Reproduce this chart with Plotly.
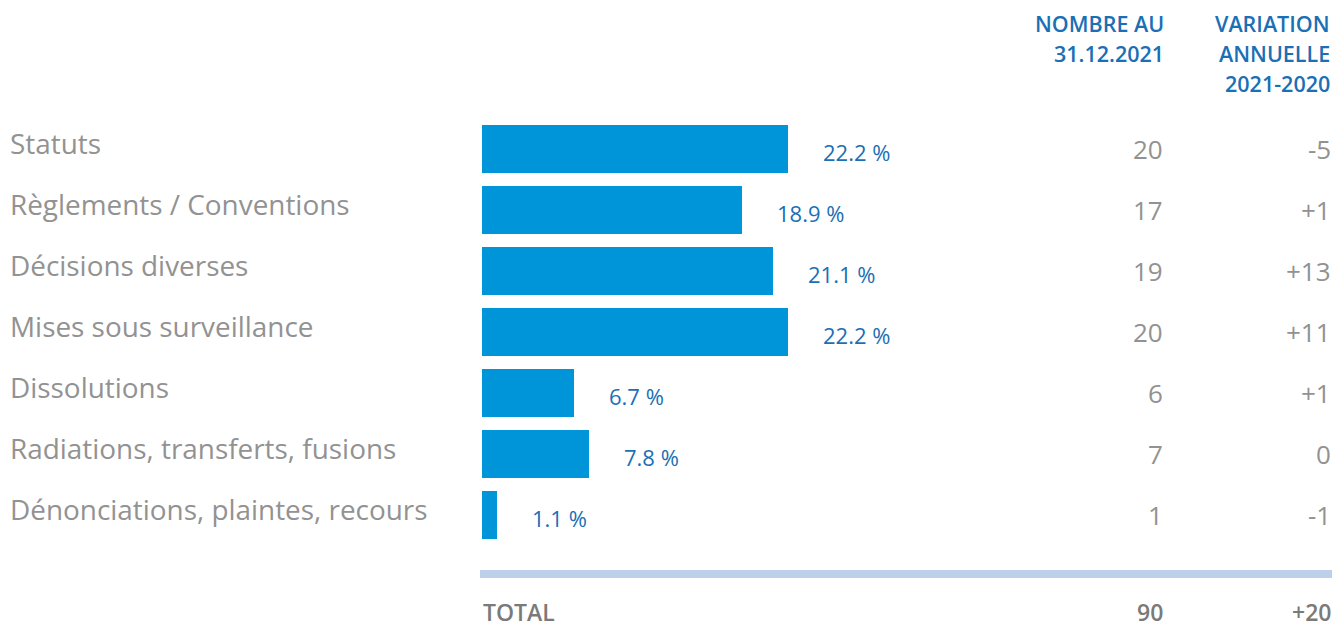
import plotly.graph_objects as go

# Categories and values
categories = [
    "Statuts",
    "Règlements / Conventions",
    "Décisions diverses",
    "Mises sous surveillance",
    "Dissolutions",
    "Radiations, transferts, fusions",
    "Dénonciations, plaintes, recours",
]
shares = [22.2, 18.9, 21.1, 22.2, 6.7, 7.8, 1.1]
counts = [20, 17, 19, 20, 6, 7, 1]
variations = ["-5", "+1", "+13", "+11", "+1", "0", "-1"]
total_count = 90
total_variation = "+20"
header_count = ["NOMBRE AU", "31.12.2021"]
header_variation = ["VARIATION", "ANNUELLE", "2021-2020"]

W, H = 1335, 628
FONT = "Open Sans"
BAR = "#0095d8"
BLUE_TXT = "#1a6fb5"
GREY = "#929292"
GREY_DARK = "#7a7a7a"

def px(x):
    return x / W

def py(y):
    return 1 - y / H

pos = list(range(len(categories)))

fig = go.Figure(go.Bar(
    x=shares, y=pos, orientation="h",
    marker=dict(color=BAR, line=dict(width=0)),
    width=0.79, hoverinfo="skip",
))

ann = []
for i, (cat, s, c, v) in enumerate(zip(categories, shares, counts, variations)):
    ann.append(dict(x=px(8), xref="paper", y=i, yref="y", text=cat,
                    xanchor="left", yanchor="middle", yshift=6, showarrow=False,
                    font=dict(family=FONT, size=27.9, color=GREY)))
    ann.append(dict(x=s, xref="x", y=i, yref="y", text=f"{s} %",
                    xanchor="left", yanchor="middle", xshift=33, yshift=-3,
                    showarrow=False,
                    font=dict(family=FONT, size=22, color=BLUE_TXT)))
    ann.append(dict(x=px(1165), xref="paper", y=i, yref="y", text=str(c),
                    xanchor="right", yanchor="middle", showarrow=False,
                    font=dict(family=FONT, size=26, color=GREY)))
    ann.append(dict(x=px(1333), xref="paper", y=i, yref="y", text=v,
                    xanchor="right", yanchor="middle", showarrow=False,
                    font=dict(family=FONT, size=26, color=GREY)))

# Column headers, one line at a time
for x_right, lines in [(1166, header_count), (1332, header_variation)]:
    for k, line in enumerate(lines):
        ann.append(dict(x=px(x_right), xref="paper", y=py(24 + 30 * k), yref="paper",
                        text=line, xanchor="right", yanchor="middle", showarrow=False,
                        font=dict(family=FONT, size=21.5, color=BLUE_TXT, weight=600)))

# Total row
for x, t, anchor in [(481, "TOTAL", "left"), (1165, str(total_count), "right"),
                     (1333, total_variation, "right")]:
    ann.append(dict(x=px(x), xref="paper", y=py(630), yref="paper", text=t,
                    xanchor=anchor, yanchor="bottom", showarrow=False,
                    font=dict(family=FONT, size=23, color=GREY_DARK, weight=600)))

# Separator band above the total
shapes = [dict(type="rect", xref="paper", yref="paper",
               x0=px(480), x1=px(1332), y0=py(578), y1=py(570),
               fillcolor="#bcd0ea", line=dict(width=0), layer="below")]

scale = 13.78  # pixels per percentage point
x0_px = 482
row0, step = 149, 61

fig.update_layout(
    width=W, height=H,
    margin=dict(l=0, r=0, t=0, b=0),
    paper_bgcolor="white", plot_bgcolor="white",
    showlegend=False,
    xaxis=dict(range=[-x0_px / scale, (W - x0_px) / scale], visible=False, fixedrange=True),
    yaxis=dict(range=[(H - row0) / step, -row0 / step], visible=False, fixedrange=True),
    annotations=ann, shapes=shapes,
    bargap=0,
)

fig.write_html("out.html")
